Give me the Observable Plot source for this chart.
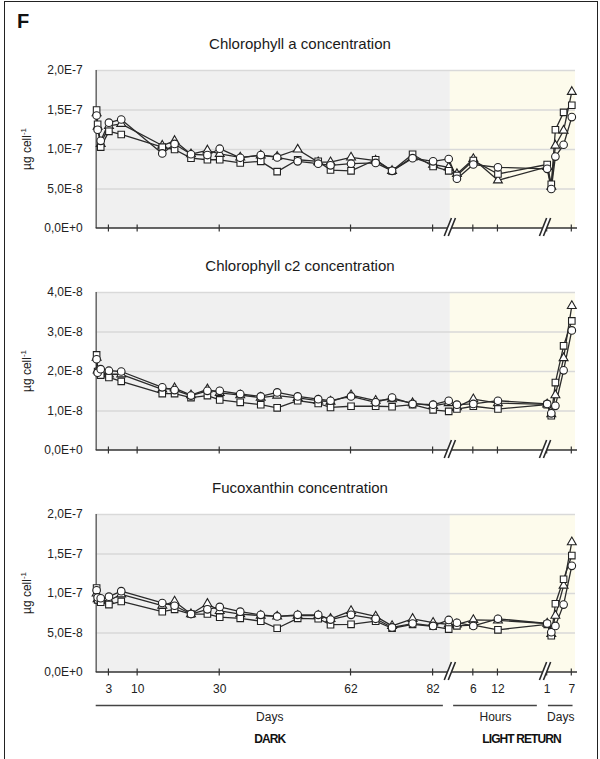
<!DOCTYPE html>
<html>
<head>
<meta charset="utf-8">
<script src="https://cdn.jsdelivr.net/npm/d3@7"></script>
<script src="https://cdn.jsdelivr.net/npm/@observablehq/plot@0.6"></script>
<style>
  body { margin: 0; background: #fff; }
  #fig { position: relative; width: 600px; height: 759px; overflow: hidden;
         font-family: "Liberation Sans", Arial, Helvetica, sans-serif; color: #1a1a1a; }
  #frame { position: absolute; left: 4px; top: 1px; width: 594px; height: 780px;
           border: 1.5px solid #222; box-sizing: border-box; }
  .panel { position: absolute; left: 0; }
  #overlay { position: absolute; left: 0; top: 0; }
</style>
</head>
<body>
<div id="fig">
  <div id="frame"></div>
</div>
<script>
// ---------------- data ----------------
// sampling times: dark period (days), light return (hours), light return (days)
const darkDays   = [0, 0.25, 1, 3, 6, 16, 19, 23, 27, 30, 35, 40, 44, 49, 54, 57, 62, 68, 72, 77, 82];
const lightHours = [0, 2, 6, 12];
const lightDays  = [1, 2, 3, 5, 7];

// Chlorophyll a (x 1E-8 µg cell-1)
const chlA_circle   = [14.3, 12.5, 11.1, 13.4, 13.8, 9.5, 10.7, 9.4, 9.3, 10.1, 8.95, 9.3, 9.0, 8.5, 8.2, 8.0, 8.2, 8.3, 7.3, 8.9, 8.5,
                       8.8, 6.3, 8.1, 7.75,
                       7.55, 5.0, 9.1, 10.6, 14.1];
const chlA_square   = [15.0, 13.2, 10.3, 12.3, 11.9, 10.3, 10.0, 8.9, 8.7, 8.7, 8.3, 8.5, 7.2, 8.7, 8.5, 7.4, 7.3, 8.7, 7.3, 9.4, 7.85,
                       7.3, 6.7, 8.6, 6.9,
                       8.1, 5.6, 12.5, 14.7, 15.6];
const chlA_triangle = [14.6, 12.9, 10.7, 13.0, 13.25, 10.5, 11.1, 9.4, 9.9, 9.45, 9.0, 9.25, 9.1, 10.0, 8.4, 8.4, 9.0, 8.6, 7.3, 9.0, 8.1,
                       7.75, 6.9, 8.8, 6.1,
                       7.8, 5.3, 10.5, 12.4, 17.3];

// Chlorophyll c2 (x 1E-9 µg cell-1)
const chlC_circle   = [23.1, 19.7, 20.6, 20.2, 20.0, 16.0, 15.3, 13.9, 15.1, 15.1, 14.3, 13.7, 14.7, 13.7, 13.0, 12.6, 13.7, 12.2, 13.4, 11.8, 11.6,
                       12.6, 11.6, 11.8, 12.6,
                       11.8, 9.4, 11.3, 20.3, 30.4];
const chlC_square   = [24.2, 20.0, 19.1, 18.5, 17.5, 14.4, 14.4, 13.4, 13.9, 12.8, 12.2, 11.6, 10.8, 12.6, 11.9, 10.9, 11.2, 11.2, 11.1, 11.6, 10.3,
                       9.9, 10.5, 11.2, 10.5,
                       11.6, 8.8, 17.2, 26.5, 32.8];
const chlC_triangle = [23.5, 20.3, 19.8, 19.3, 19.3, 15.5, 15.8, 14.0, 15.5, 14.6, 14.0, 13.4, 13.9, 13.3, 12.6, 12.4, 14.0, 12.6, 13.0, 12.0, 11.3,
                       12.0, 11.0, 13.0, 12.0,
                       11.7, 9.2, 14.0, 23.4, 36.6];

// Fucoxanthin (x 1E-8 µg cell-1)
const fuco_circle   = [10.4, 9.5, 9.4, 9.6, 10.3, 8.8, 8.45, 7.4, 8.0, 8.3, 7.7, 7.3, 7.1, 7.3, 7.3, 6.7, 7.3, 6.8, 5.7, 6.2, 5.9,
                       6.65, 6.3, 5.9, 6.8,
                       6.2, 5.1, 5.9, 8.6, 13.5];
const fuco_square   = [10.7, 9.2, 8.9, 8.6, 9.0, 7.7, 8.0, 7.4, 7.4, 7.0, 6.85, 6.5, 5.6, 6.85, 6.8, 6.05, 6.1, 6.5, 5.6, 6.1, 5.85,
                       5.5, 5.9, 6.0, 5.4,
                       6.1, 4.65, 8.7, 11.8, 14.8];
const fuco_triangle = [10.0, 9.3, 9.1, 9.1, 9.9, 8.45, 9.0, 7.4, 8.7, 7.8, 7.4, 7.2, 7.1, 7.2, 7.2, 6.8, 7.8, 7.1, 5.9, 6.8, 6.3,
                       6.1, 6.1, 6.65, 6.6,
                       6.2, 4.9, 7.2, 11.0, 16.5];

// axis ticks
const yTicksA = [0, 5e-8, 1e-7, 1.5e-7, 2e-7];
const yTicksC = [0, 1e-8, 2e-8, 3e-8, 4e-8];
const yTicksF = [0, 5e-8, 1e-7, 1.5e-7, 2e-7];
const xTickDark  = [3, 10, 30, 62, 82];
const xTickHours = [6, 12];
const xTickDays  = [1, 7];

const titles = ["Chlorophyll a concentration", "Chlorophyll c2 concentration", "Fucoxanthin concentration"];
const segmentLabels = ["Days", "Hours", "Days"];
const groupLabels = ["DARK", "LIGHT RETURN"];

// ---------------- broken time axis ----------------
const HOUR0 = 85.8, DAY0 = 108.8;              // offsets of the light-return segments on the axis
const xDomain = [-0.1, 116.7];
const breaks = [86.2, 109.4];
const toU = (seg, t) => seg === "dark" ? t : seg === "hours" ? HOUR0 + t : DAY0 + t;

const times = [
  ...darkDays.map(t => ["dark", t]),
  ...lightHours.map(t => ["hours", t]),
  ...lightDays.map(t => ["days", t])
];
const xTicks = [
  ...xTickDark.map(t => ({u: toU("dark", t), label: String(t)})),
  ...xTickHours.map(t => ({u: toU("hours", t), label: String(t)})),
  ...xTickDays.map(t => ({u: toU("days", t), label: String(t)}))
];
const shading = [
  {u1: xDomain[0], u2: breaks[0], fill: "#f0f0f0"},
  {u1: breaks[0], u2: xDomain[1], fill: "#fdfbec"}
];
const segments = [
  {u1: xDomain[0], u2: 84.5, name: segmentLabels[0]},
  {u1: 87.0, u2: 107.4, name: segmentLabels[1]},
  {u1: 110.1, u2: 116.1, name: segmentLabels[2]}
];
const groups = [
  {u: (segments[0].u1 + segments[0].u2) / 2, name: groupLabels[0]},
  {u: (segments[1].u1 + segments[2].u2) / 2 + 2, name: groupLabels[1]}
];

function fmtE(d) {
  if (d === 0) return "0,0E+0";
  const e = Math.floor(Math.log10(d) + 1e-9);
  const m = d / Math.pow(10, e);
  return m.toFixed(1).replace(".", ",") + "E" + (e < 0 ? "-" : "+") + Math.abs(e);
}

// custom axis line with crossing ticks and "//" break marks
function xAxisMark(index, scales, values, dims) {
  const g = d3.create("svg:g");
  const y0 = dims.height - dims.marginBottom;
  const xa = dims.marginLeft, xb = dims.width - dims.marginRight + 2;
  g.append("line").attr("x1", xa).attr("x2", xb).attr("y1", y0).attr("y2", y0)
    .attr("stroke", "#333").attr("stroke-width", 1.4);
  for (const t of xTicks) {
    const x = scales.x(t.u);
    g.append("line").attr("x1", x).attr("x2", x).attr("y1", y0 - 3.5).attr("y2", y0 + 3.5)
      .attr("stroke", "#333").attr("stroke-width", 1.2);
  }
  for (const b of breaks) {
    const x = scales.x(b);
    const top = y0 - 10, bot = y0 + 8, sl = 3.6, gap = 2;
    g.append("polygon")
      .attr("points", `${x + sl - gap},${top} ${x + sl + gap},${top} ${x - sl + gap},${bot} ${x - sl - gap},${bot}`)
      .attr("fill", "white");
    for (const o of [-gap, gap]) {
      g.append("line").attr("x1", x + sl + o).attr("y1", top).attr("x2", x - sl + o).attr("y2", bot)
        .attr("stroke", "#2a2a2a").attr("stroke-width", 1.6);
    }
  }
  return g.node();
}

function panel({circle, square, triangle, unit, yTicks, top, marginBottom, bottom}) {
  const rowsOf = arr => arr.map((v, i) => ({u: toU(times[i][0], times[i][1]), v: v * unit}));
  const series = [[triangle, "triangle", 3.3], [square, "square", 3.7], [circle, "circle", 3.8]];
  const marks = [
    Plot.rect([shading[0]], {x1: "u1", x2: "u2", fill: shading[0].fill}),
    Plot.rect([shading[1]], {x1: "u1", x2: "u2", fill: shading[1].fill}),
    Plot.ruleY(yTicks.slice(1), {stroke: "#d9d9d9", strokeWidth: 1.6}),
    Plot.axisY(yTicks, {tickSize: 0, tickPadding: 13.5, tickFormat: fmtE, fill: "#222", label: null}),
    Plot.ruleX([xDomain[0]], {stroke: "#666", strokeWidth: 1.5}),
    xAxisMark
  ];
  for (const [arr] of series) marks.push(Plot.line(rowsOf(arr), {x: "u", y: "v", stroke: "#2b2b2b", strokeWidth: 1.3}));
  for (const [arr, sym, r] of series) marks.push(Plot.dot(rowsOf(arr), {x: "u", y: "v", symbol: sym, r, fill: "white", stroke: "#222", strokeWidth: 1.1}));
  if (bottom) {
    marks.push(Plot.text(xTicks, {x: "u", text: "label", frameAnchor: "bottom", dy: 20, fill: "#222"}));
    marks.push(Plot.ruleY(segments, {x1: "u1", x2: "u2", y: () => 0, dy: 33, stroke: "#444", strokeWidth: 1.5}));
    marks.push(Plot.text(segments, {x: d => (d.u1 + d.u2) / 2, y: () => 0, dy: 45, text: "name", fill: "#222"}));
    marks.push(Plot.text(groups, {x: "u", y: () => 0, dy: 67, text: "name", fontWeight: "bold", fontSize: 12, fill: "#111"}));
  }
  const chart = Plot.plot({
    width: 600,
    height: 12 + 158 + marginBottom,
    marginTop: 12, marginBottom, marginLeft: 95.7, marginRight: 25,
    x: {domain: xDomain, axis: null},
    y: {domain: [0, yTicks[yTicks.length - 1]], axis: null},
    style: {fontFamily: '"Liberation Sans", Arial, Helvetica, sans-serif', fontSize: "12px", background: "transparent", overflow: "visible"},
    marks
  });
  chart.classList.add("panel");
  chart.style.top = (top - 12) + "px";
  d3.select(chart).selectAll("text")
    .filter(function() { return groupLabels.includes(this.textContent); })
    .attr("letter-spacing", "-0.9");
  document.getElementById("fig").appendChild(chart);
}

const panelTops = [70, 292, 514];
panel({circle: chlA_circle, square: chlA_square, triangle: chlA_triangle, unit: 1e-8, yTicks: yTicksA, top: panelTops[0], marginBottom: 20, bottom: false});
panel({circle: chlC_circle, square: chlC_square, triangle: chlC_triangle, unit: 1e-9, yTicks: yTicksC, top: panelTops[1], marginBottom: 20, bottom: false});
panel({circle: fuco_circle, square: fuco_square, triangle: fuco_triangle, unit: 1e-8, yTicks: yTicksF, top: panelTops[2], marginBottom: 87, bottom: true});

// titles, panel letter and y labels
const ov = d3.select("#fig").append("svg").attr("id", "overlay").attr("width", 600).attr("height", 759)
  .style("font-family", '"Liberation Sans", Arial, Helvetica, sans-serif');
ov.append("text").attr("x", 17).attr("y", 27.5).attr("font-size", 20).attr("font-weight", "bold").attr("fill", "#111").text("F");
panelTops.forEach((t, i) => {
  ov.append("text").attr("x", 300).attr("y", t - 21).attr("text-anchor", "middle")
    .attr("font-size", 15).attr("fill", "#1a1a1a").text(titles[i]);
  const yl = ov.append("text").attr("transform", `translate(31,${t + 79}) rotate(-90)`)
    .attr("text-anchor", "middle").attr("font-size", 12).attr("fill", "#222");
  yl.append("tspan").text("µg cell");
  yl.append("tspan").attr("font-size", 8).attr("dy", -5).text("-1");
});
</script>
</body>
</html>
